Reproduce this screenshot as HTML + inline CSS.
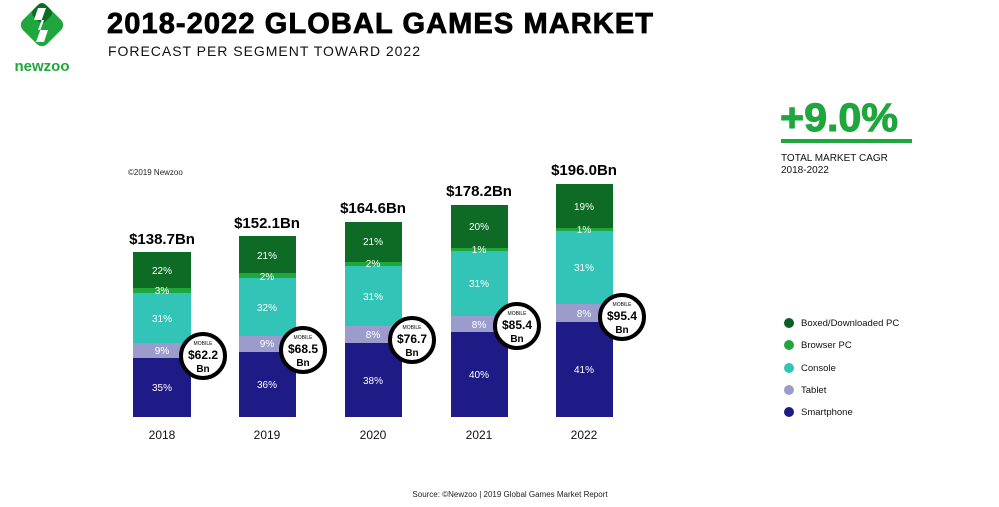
<!DOCTYPE html>
<html><head><meta charset="utf-8"><style>
body{margin:0;background:#fff;}
svg text{font-family:"Liberation Sans",sans-serif;}
</style></head><body>
<svg width="999" height="502" viewBox="0 0 999 502" xmlns="http://www.w3.org/2000/svg">
<rect width="999" height="502" fill="#fff"/>
<!-- logo -->
<g transform="translate(42,25) rotate(45)">
<rect x="-17" y="-17" width="34" height="34" rx="7" fill="#1fa63c"/>
<rect x="-17" y="-17" width="17" height="17" rx="5" fill="#0d6b26"/>
</g>
<path d="M38 8 L46 8 L38 30 L48 30 L44 42 L36 42 L44 20 L34 20 Z" fill="#fff"/>
<text x="42" y="71" font-size="15" font-weight="bold" fill="#1fa63c" text-anchor="middle">newzoo</text>
<text x="107" y="33" font-size="29" font-weight="bold" fill="#000" stroke="#000" stroke-width="0.8" textLength="546">2018-2022 GLOBAL GAMES MARKET</text>
<text x="108" y="56" font-size="14" fill="#111" textLength="312">FORECAST PER SEGMENT TOWARD 2022</text>
<text x="128" y="175" font-size="8" fill="#222">©2019 Newzoo</text>
<!-- CAGR -->
<text x="780" y="131" font-size="40" font-weight="bold" fill="#1fa63c" stroke="#1fa63c" stroke-width="1" textLength="118" lengthAdjust="spacingAndGlyphs">+9.0%</text>
<rect x="781" y="139" width="131" height="4" fill="#1fa63c"/>
<text x="781" y="161" font-size="10" fill="#111">TOTAL MARKET CAGR</text>
<text x="781" y="173" font-size="10" fill="#111">2018-2022</text>
<!-- legend -->
<g font-size="9.5" fill="#111">
<circle cx="789" cy="323" r="5" fill="#0d5e23"/><text x="801" y="326">Boxed/Downloaded PC</text>
<circle cx="789" cy="345" r="5" fill="#1fa63c"/><text x="801" y="348">Browser PC</text>
<circle cx="789" cy="368" r="5" fill="#33c4b8"/><text x="801" y="371">Console</text>
<circle cx="789" cy="390" r="5" fill="#9c9ccc"/><text x="801" y="393">Tablet</text>
<circle cx="789" cy="412" r="5" fill="#1e1b87"/><text x="801" y="415">Smartphone</text>
</g>
<!-- bars -->
<g font-size="10" fill="#fff" text-anchor="middle">
<rect x="133" y="252" width="58" height="36" fill="#0d6b26"/>
<rect x="133" y="288" width="58" height="5" fill="#1fa63c"/>
<rect x="133" y="293" width="58" height="50" fill="#33c4b8"/>
<rect x="133" y="343" width="58" height="15" fill="#9c9ccc"/>
<rect x="133" y="358" width="58" height="59" fill="#1e1b87"/>
<text x="162" y="274">22%</text><text x="162" y="294">3%</text><text x="162" y="322">31%</text><text x="162" y="354">9%</text><text x="162" y="391">35%</text>
<rect x="239" y="236" width="57" height="37" fill="#0d6b26"/>
<rect x="239" y="273" width="57" height="5" fill="#1fa63c"/>
<rect x="239" y="278" width="57" height="58" fill="#33c4b8"/>
<rect x="239" y="336" width="57" height="16" fill="#9c9ccc"/>
<rect x="239" y="352" width="57" height="65" fill="#1e1b87"/>
<text x="267" y="259">21%</text><text x="267" y="280">2%</text><text x="267" y="311">32%</text><text x="267" y="347">9%</text><text x="267" y="388">36%</text>
<rect x="345" y="222" width="57" height="40" fill="#0d6b26"/>
<rect x="345" y="262" width="57" height="4" fill="#1fa63c"/>
<rect x="345" y="266" width="57" height="60" fill="#33c4b8"/>
<rect x="345" y="326" width="57" height="17" fill="#9c9ccc"/>
<rect x="345" y="343" width="57" height="74" fill="#1e1b87"/>
<text x="373" y="245">21%</text><text x="373" y="267">2%</text><text x="373" y="300">31%</text><text x="373" y="338">8%</text><text x="373" y="384">38%</text>
<rect x="451" y="205" width="57" height="43" fill="#0d6b26"/>
<rect x="451" y="248" width="57" height="3" fill="#1fa63c"/>
<rect x="451" y="251" width="57" height="65" fill="#33c4b8"/>
<rect x="451" y="316" width="57" height="16" fill="#9c9ccc"/>
<rect x="451" y="332" width="57" height="85" fill="#1e1b87"/>
<text x="479" y="230">20%</text><text x="479" y="253">1%</text><text x="479" y="287">31%</text><text x="479" y="328">8%</text><text x="479" y="378">40%</text>
<rect x="556" y="184" width="57" height="44" fill="#0d6b26"/>
<rect x="556" y="228" width="57" height="3" fill="#1fa63c"/>
<rect x="556" y="231" width="57" height="73" fill="#33c4b8"/>
<rect x="556" y="304" width="57" height="18" fill="#9c9ccc"/>
<rect x="556" y="322" width="57" height="95" fill="#1e1b87"/>
<text x="584" y="210">19%</text><text x="584" y="233">1%</text><text x="584" y="271">31%</text><text x="584" y="317">8%</text><text x="584" y="373">41%</text>
</g>
<g font-size="15" font-weight="bold" fill="#000" text-anchor="middle">
<text x="162" y="244">$138.7Bn</text>
<text x="267" y="228">$152.1Bn</text>
<text x="373" y="213">$164.6Bn</text>
<text x="479" y="196">$178.2Bn</text>
<text x="584" y="175">$196.0Bn</text>
</g>
<g font-size="12" fill="#111" text-anchor="middle">
<text x="162" y="439">2018</text><text x="267" y="439">2019</text><text x="373" y="439">2020</text><text x="479" y="439">2021</text><text x="584" y="439">2022</text>
</g>
<g text-anchor="middle" fill="#000">
<g transform="translate(203,356)"><circle r="22" fill="#fff" stroke="#000" stroke-width="4"/><text y="-11" font-size="5">MOBILE</text><text y="3" font-size="12" font-weight="bold">$62.2</text><text y="16" font-size="10" font-weight="bold">Bn</text></g>
<g transform="translate(303,350)"><circle r="22" fill="#fff" stroke="#000" stroke-width="4"/><text y="-11" font-size="5">MOBILE</text><text y="3" font-size="12" font-weight="bold">$68.5</text><text y="16" font-size="10" font-weight="bold">Bn</text></g>
<g transform="translate(412,340)"><circle r="22" fill="#fff" stroke="#000" stroke-width="4"/><text y="-11" font-size="5">MOBILE</text><text y="3" font-size="12" font-weight="bold">$76.7</text><text y="16" font-size="10" font-weight="bold">Bn</text></g>
<g transform="translate(517,326)"><circle r="22" fill="#fff" stroke="#000" stroke-width="4"/><text y="-11" font-size="5">MOBILE</text><text y="3" font-size="12" font-weight="bold">$85.4</text><text y="16" font-size="10" font-weight="bold">Bn</text></g>
<g transform="translate(622,317)"><circle r="22" fill="#fff" stroke="#000" stroke-width="4"/><text y="-11" font-size="5">MOBILE</text><text y="3" font-size="12" font-weight="bold">$95.4</text><text y="16" font-size="10" font-weight="bold">Bn</text></g>
</g>
<text x="510" y="497" font-size="8" fill="#222" text-anchor="middle">Source: ©Newzoo | 2019 Global Games Market Report</text>
</svg>
</body></html>
